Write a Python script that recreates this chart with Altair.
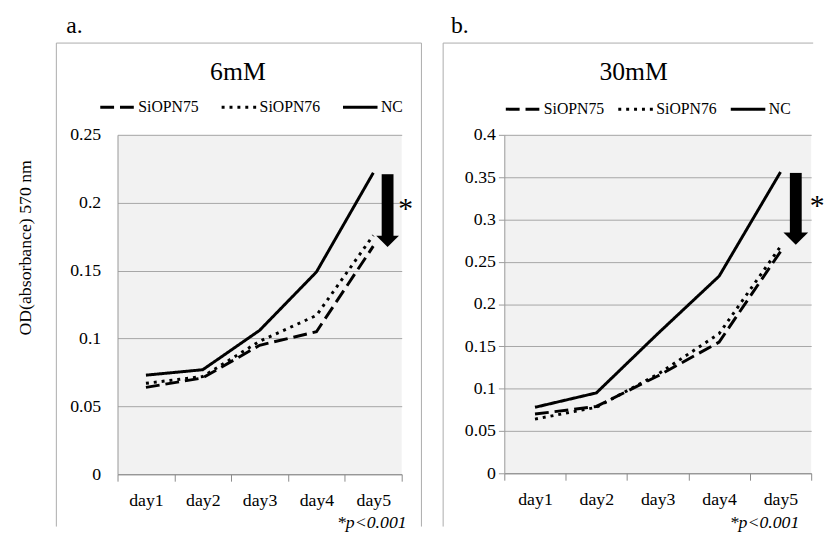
import altair as alt
import pandas as pd

FONT = "Liberation Serif"

days = ["day1", "day2", "day3", "day4", "day5"]
series = ["SiOPN75", "SiOPN76", "NC"]

# panel a: 6mM
a_75 = [0.064, 0.071, 0.095, 0.105, 0.168]
a_76 = [0.067, 0.072, 0.098, 0.117, 0.176]
a_nc = [0.073, 0.077, 0.106, 0.149, 0.222]
a_ticks = [0, 0.05, 0.1, 0.15, 0.2, 0.25]
a_arrow = [0.221, 0.175, 0.1715]  # shaft top, shaft bottom, head centre

# panel b: 30mM
b_75 = [0.070, 0.079, 0.115, 0.155, 0.262]
b_76 = [0.064, 0.078, 0.117, 0.165, 0.268]
b_nc = [0.078, 0.095, 0.165, 0.233, 0.356]
b_ticks = [0, 0.05, 0.1, 0.15, 0.2, 0.25, 0.3, 0.35, 0.4]
b_arrow = [0.355, 0.284, 0.2773]

dash_range = [[14, 6], [3, 5], [1, 0]]


def one():
    return alt.InlineData(values=[{"k": 0}])


def long_df(v75, v76, vnc):
    rows = []
    for name, vals in zip(series, [v75, v76, vnc]):
        for d, v in zip(days, vals):
            rows.append({"day": d, "val": v, "series": name})
    return pd.DataFrame(rows)


def txt(s, x, y, size, align="left", italic=False, baseline="alphabetic"):
    return alt.Chart(one()).mark_text(
        text=s, font=FONT, fontSize=size, align=align, baseline=baseline,
        fontStyle="italic" if italic else "normal", color="black",
    ).encode(x=alt.value(x), y=alt.value(y))


def hrule(x1, x2, y):
    return alt.Chart(one()).mark_rule(color="#ababab", strokeWidth=1).encode(
        x=alt.value(x1), x2=alt.value(x2), y=alt.value(y))


def vrule(x, y1, y2):
    return alt.Chart(one()).mark_rule(color="#ababab", strokeWidth=1).encode(
        x=alt.value(x), y=alt.value(y1), y2=alt.value(y2))


def panel(v75, v76, vnc, ticks, ymax, w, h, title, letter, arrow, xoff, head_w,
          lx, ly, colpad, first, box_right, title_x, letter_x, star_x, star_y, p_x):
    df = long_df(v75, v76, vnc)
    xenc = alt.X("day:N", bandPosition=0.5,
                 scale=alt.Scale(type="band", domain=days, paddingInner=0, paddingOuter=0),
                 axis=alt.Axis(title=None, tickBand="extent", tickSize=7, tickColor="#8a8a8a",
                               domainColor="#8a8a8a", labelAngle=0, labelPadding=11,
                               labelFont=FONT, labelFontSize=18, labelColor="black", grid=False))
    if first:
        yaxis = alt.Axis(values=ticks, format="~g", grid=True, gridColor="#a6a6a6",
                         domainColor="#9a9a9a", ticks=False,
                         labelPadding=17, labelFont=FONT, labelFontSize=18,
                         labelColor="black",
                         title="OD(absorbance) 570 nm", titleFont=FONT, titleFontSize=18,
                         titleFontWeight="normal", titleColor="black", titleAngle=270,
                         titleX=-88, titleY=114, titleAlign="center",
                         titleBaseline="alphabetic")
    else:
        yaxis = alt.Axis(values=ticks, format="~g", grid=True, gridColor="#a6a6a6",
                         domainColor="#9a9a9a", ticks=True, tickSize=6, tickColor="#9a9a9a",
                         labelPadding=3, labelFont=FONT, labelFontSize=18,
                         labelColor="black", title=None)
    yenc = alt.Y("val:Q", scale=alt.Scale(domain=[0, ymax], nice=False, zero=True), axis=yaxis)

    lines = alt.Chart(df).mark_line(strokeWidth=3, color="black").encode(
        x=xenc, y=yenc,
        strokeDash=alt.StrokeDash(
            "series:N",
            scale=alt.Scale(domain=series, range=dash_range),
            legend=alt.Legend(orient="none", legendX=lx, legendY=ly, direction="horizontal",
                              title=None, symbolType="stroke", symbolSize=1225,
                              symbolStrokeWidth=3, symbolStrokeColor="black",
                              labelFont=FONT, labelFontSize=16, labelColor="black",
                              labelOffset=2, columnPadding=colpad, padding=0),
        ),
    )

    arr_df = pd.DataFrame({"day": ["day5"], "val": [arrow[0]], "val2": [arrow[1]],
                           "head": [arrow[2]]})
    shaft = alt.Chart(arr_df).mark_rule(color="black", strokeWidth=12, strokeCap="butt",
                                        xOffset=xoff).encode(
        x=alt.X("day:N", bandPosition=0.5), y=alt.Y("val:Q"), y2="val2:Q")
    head = alt.Chart(arr_df).mark_point(shape="M-1,-0.5L1,-0.5L0,0.5Z", size=head_w ** 2,
                                        filled=True, color="black", opacity=1,
                                        xOffset=xoff).encode(
        x=alt.X("day:N", bandPosition=0.5), y=alt.Y("head:Q"))

    layers = []
    if first:
        layers.append(alt.Chart(one()).mark_rect(opacity=0).encode(
            x=alt.value(-111), x2=alt.value(-105), y=alt.value(-125), y2=alt.value(-120)))
    layers += [
        hrule(-62, box_right, -93),
        vrule(-62, -93, 397),
    ]
    if first:
        layers.append(vrule(box_right, -93, 397))
    layers += [
        lines, shaft, head,
        txt("*", star_x, star_y, 30, align="center"),
        txt(letter, letter_x, -103, 24),
        txt(title, title_x, -56, 26, align="center"),
        txt("*p<0.001", p_x, 398, 18, align="right", italic=True),
    ]
    return alt.layer(*layers).properties(width=w, height=h)


left = panel(a_75, a_76, a_nc, a_ticks, 0.25, 288, 344, "6mM", "a.", a_arrow, 14.5, 23,
             -19, -47, 16, True, 308, 122, -52, 292, 84, 293)
right = panel(b_75, b_76, b_nc, b_ticks, 0.4, 311, 343, "30mM", "b.", b_arrow, 15.5, 25,
              0, -45, 7, False, 313, 131, -54, 317, 81, 299)

chart = alt.hconcat(left, right, spacing=104, bounds="flush").resolve_scale(
    x="independent", y="independent", strokeDash="independent"
).resolve_legend(strokeDash="independent").properties(
    padding=0
).configure_view(fill="#f2f2f2", stroke=None)

chart.save("out.html", embed_options={"renderer": "svg", "actions": False})
